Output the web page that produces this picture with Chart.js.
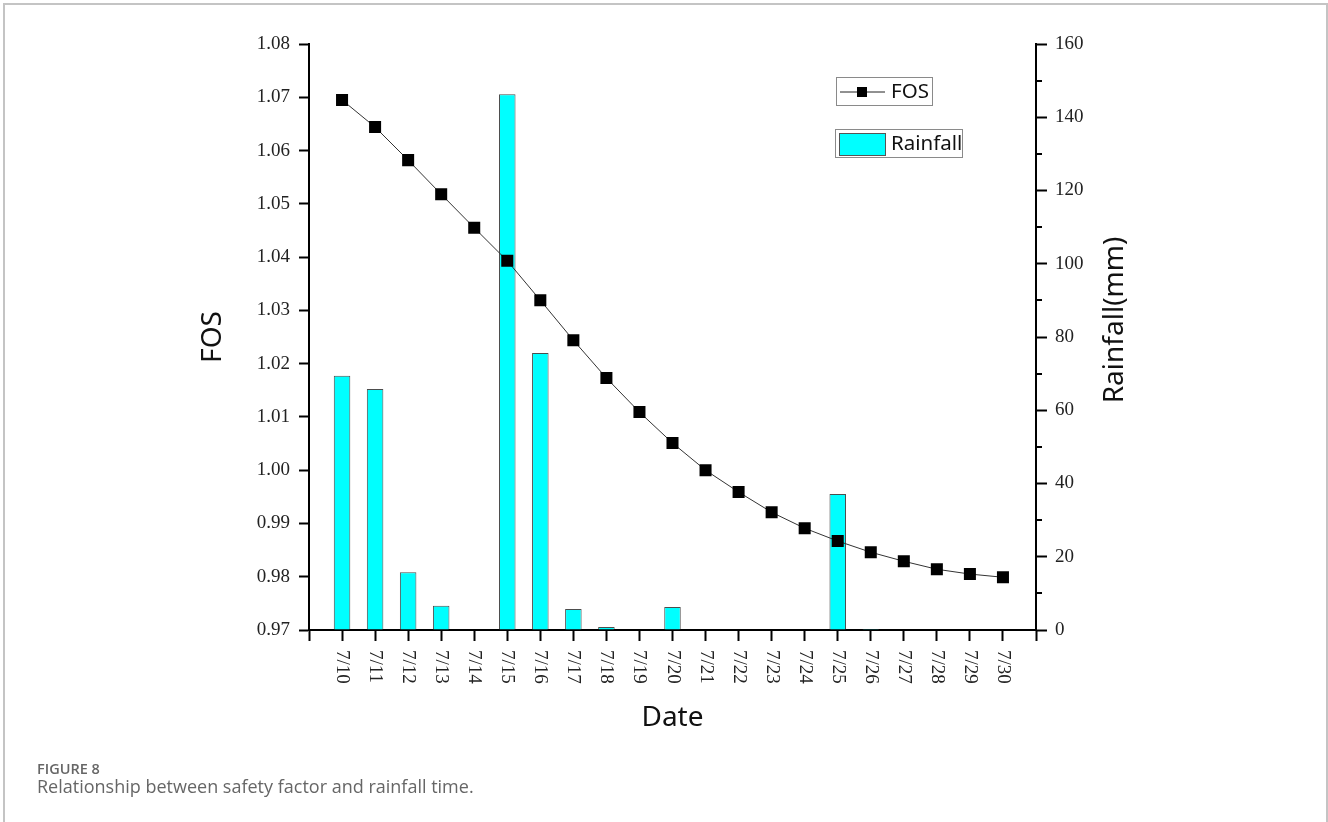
<!DOCTYPE html>
<html lang="en">
<head>
    <meta charset="UTF-8">
    <title>FOS and Rainfall</title>
    <script src="https://cdn.jsdelivr.net/npm/chart.js"></script>
    <style>
        body {
            margin: 0;
            background-color: white;
            width: 1328px;
            height: 822px;
            overflow: hidden;
            position: relative;
        }
        .frame {
            position: absolute;
            left: 3px;
            top: 3px;
            width: 1321px;
            height: 830px;
            border: 2px solid #c4c4c4;
            border-bottom: none;
        }
        #chart {
            position: absolute;
            left: 0;
            top: 0;
        }
        .fig-label {
            position: absolute;
            left: 37px;
            top: 759px;
            font-family: "Open Sans", sans-serif;
            font-weight: 600;
            font-size: 14.5px;
            color: #666;
        }
        .fig-caption {
            position: absolute;
            left: 37px;
            top: 774px;
            font-family: "Open Sans", sans-serif;
            font-size: 18px;
            color: #666;
        }
    </style>
</head>
<body>
    <div class="frame"></div>
    <canvas id="chart" width="1328" height="822"></canvas>
    <div class="fig-label">FIGURE 8</div>
    <div class="fig-caption">Relationship between safety factor and rainfall time.</div>

    <script>
        const dates = ['7/10', '7/11', '7/12', '7/13', '7/14', '7/15', '7/16', '7/17', '7/18', '7/19', '7/20',
                       '7/21', '7/22', '7/23', '7/24', '7/25', '7/26', '7/27', '7/28', '7/29', '7/30'];
        const fos = [1.0695, 1.0644, 1.0582, 1.0518, 1.0455, 1.0393, 1.0319, 1.0244, 1.0173, 1.0109, 1.0051,
                     1.0000, 0.9959, 0.9921, 0.9891, 0.9867, 0.9846, 0.9829, 0.9814, 0.9805, 0.9799];
        const rainfall = [69.4, 65.8, 15.8, 6.6, 0, 146.3, 75.6, 5.7, 0.8, 0, 6.3,
                          0, 0, 0, 0, 37.1, 0.3, 0, 0, 0, 0];

        // blank slots at both ends give the axis its padding
        const labels = [''].concat(dates, ['']);
        const fosData = [null].concat(fos, [null]);
        const rainData = [null].concat(rainfall, [null]);

        const tickFont = { family: '"Liberation Serif", serif', size: 19 };
        const titleFont = '28px "Noto Sans", sans-serif';

        const decorations = {
            id: 'decorations',
            afterDraw(chart) {
                const ctx = chart.ctx;
                const ca = chart.chartArea;
                const xs = chart.scales.x;
                const y1 = chart.scales.y1;
                ctx.save();

                // minor ticks on right axis
                ctx.strokeStyle = '#000';
                ctx.lineWidth = 2;
                for (let v = 10; v < 160; v += 20) {
                    const py = Math.round(y1.getPixelForValue(v));
                    ctx.beginPath();
                    ctx.moveTo(ca.right, py);
                    ctx.lineTo(ca.right + 6, py);
                    ctx.stroke();
                }

                // rotated date labels
                ctx.fillStyle = '#222';
                ctx.font = '19px "Liberation Serif", serif';
                ctx.textAlign = 'left';
                ctx.textBaseline = 'middle';
                dates.forEach((d, i) => {
                    const px = xs.getPixelForValue(i + 1);
                    ctx.save();
                    ctx.translate(px, ca.bottom + 20);
                    ctx.rotate(Math.PI / 2);
                    ctx.fillText(d, 0, 0);
                    ctx.restore();
                });

                // axis titles
                ctx.font = titleFont;
                ctx.fillStyle = '#111';
                ctx.textAlign = 'center';
                ctx.textBaseline = 'middle';
                ctx.fillText('Date', (ca.left + ca.right) / 2, 718);

                ctx.save();
                ctx.translate(213, (ca.top + ca.bottom) / 2);
                ctx.rotate(-Math.PI / 2);
                ctx.fillText('FOS', 0, 0);
                ctx.restore();

                ctx.save();
                ctx.translate(1115, 320);
                ctx.rotate(-Math.PI / 2);
                ctx.fillText('Rainfall(mm)', 0, 0);
                ctx.restore();

                // legend
                const lx = ca.left + 527;
                ctx.strokeStyle = '#8a8a8a';
                ctx.lineWidth = 1;
                ctx.strokeRect(lx + 0.5, 77.5, 96, 28);
                ctx.strokeRect(lx - 0.5, 129.5, 127, 28);

                ctx.strokeStyle = '#222';
                ctx.beginPath();
                ctx.moveTo(lx + 4, 92);
                ctx.lineTo(lx + 49, 92);
                ctx.stroke();
                ctx.fillStyle = '#000';
                ctx.fillRect(lx + 21, 87, 10, 10);

                ctx.fillStyle = '#00ffff';
                ctx.fillRect(lx + 3, 133, 46, 22);
                ctx.strokeStyle = '#555';
                ctx.strokeRect(lx + 3.5, 133.5, 46, 22);

                ctx.fillStyle = '#111';
                ctx.font = '20.5px "Noto Sans", sans-serif';
                ctx.textAlign = 'left';
                ctx.fillText('FOS', lx + 55, 92);
                ctx.fillText('Rainfall', lx + 55, 144);

                ctx.restore();
            }
        };

        new Chart(document.getElementById('chart'), {
            data: {
                labels: labels,
                datasets: [{
                    type: 'line',
                    label: 'FOS',
                    data: fosData,
                    yAxisID: 'y',
                    order: 0,
                    borderColor: '#333',
                    borderWidth: 1,
                    tension: 0,
                    pointStyle: 'rect',
                    pointRadius: 8.5,
                    pointBackgroundColor: '#000',
                    pointBorderWidth: 0
                }, {
                    type: 'bar',
                    label: 'Rainfall',
                    data: rainData,
                    yAxisID: 'y1',
                    order: 1,
                    backgroundColor: '#00ffff',
                    borderColor: '#4d4d4d',
                    borderWidth: 1,
                    barPercentage: 0.5,
                    categoryPercentage: 1
                }]
            },
            options: {
                responsive: false,
                animation: false,
                devicePixelRatio: 1,
                layout: { padding: { left: 0, right: 0, top: 44, bottom: 0 } },
                plugins: {
                    legend: { display: false },
                    tooltip: { enabled: false }
                },
                scales: {
                    x: {
                        type: 'category',
                        offset: false,
                        grid: { offset: false, drawOnChartArea: false, tickLength: 11, tickWidth: 2, tickColor: '#000' },
                        border: { color: '#000', width: 2 },
                        ticks: { display: false },
                        afterFit(s) { s.height = 192; }
                    },
                    y: {
                        position: 'left',
                        min: 0.97,
                        max: 1.08,
                        grid: { drawOnChartArea: false, tickLength: 10, tickWidth: 2, tickColor: '#000' },
                        border: { color: '#000', width: 2 },
                        ticks: {
                            stepSize: 0.01,
                            font: tickFont,
                            color: '#222',
                            padding: 9,
                            callback: v => v.toFixed(2)
                        },
                        afterFit(s) { s.width = 309; }
                    },
                    y1: {
                        position: 'right',
                        min: 0,
                        max: 160,
                        grid: { drawOnChartArea: false, tickLength: 11, tickWidth: 2, tickColor: '#000' },
                        border: { color: '#000', width: 2 },
                        ticks: {
                            stepSize: 20,
                            font: tickFont,
                            color: '#222',
                            padding: 8
                        },
                        afterFit(s) { s.width = 292; }
                    }
                }
            },
            plugins: [decorations]
        });
    </script>
</body>
</html>
